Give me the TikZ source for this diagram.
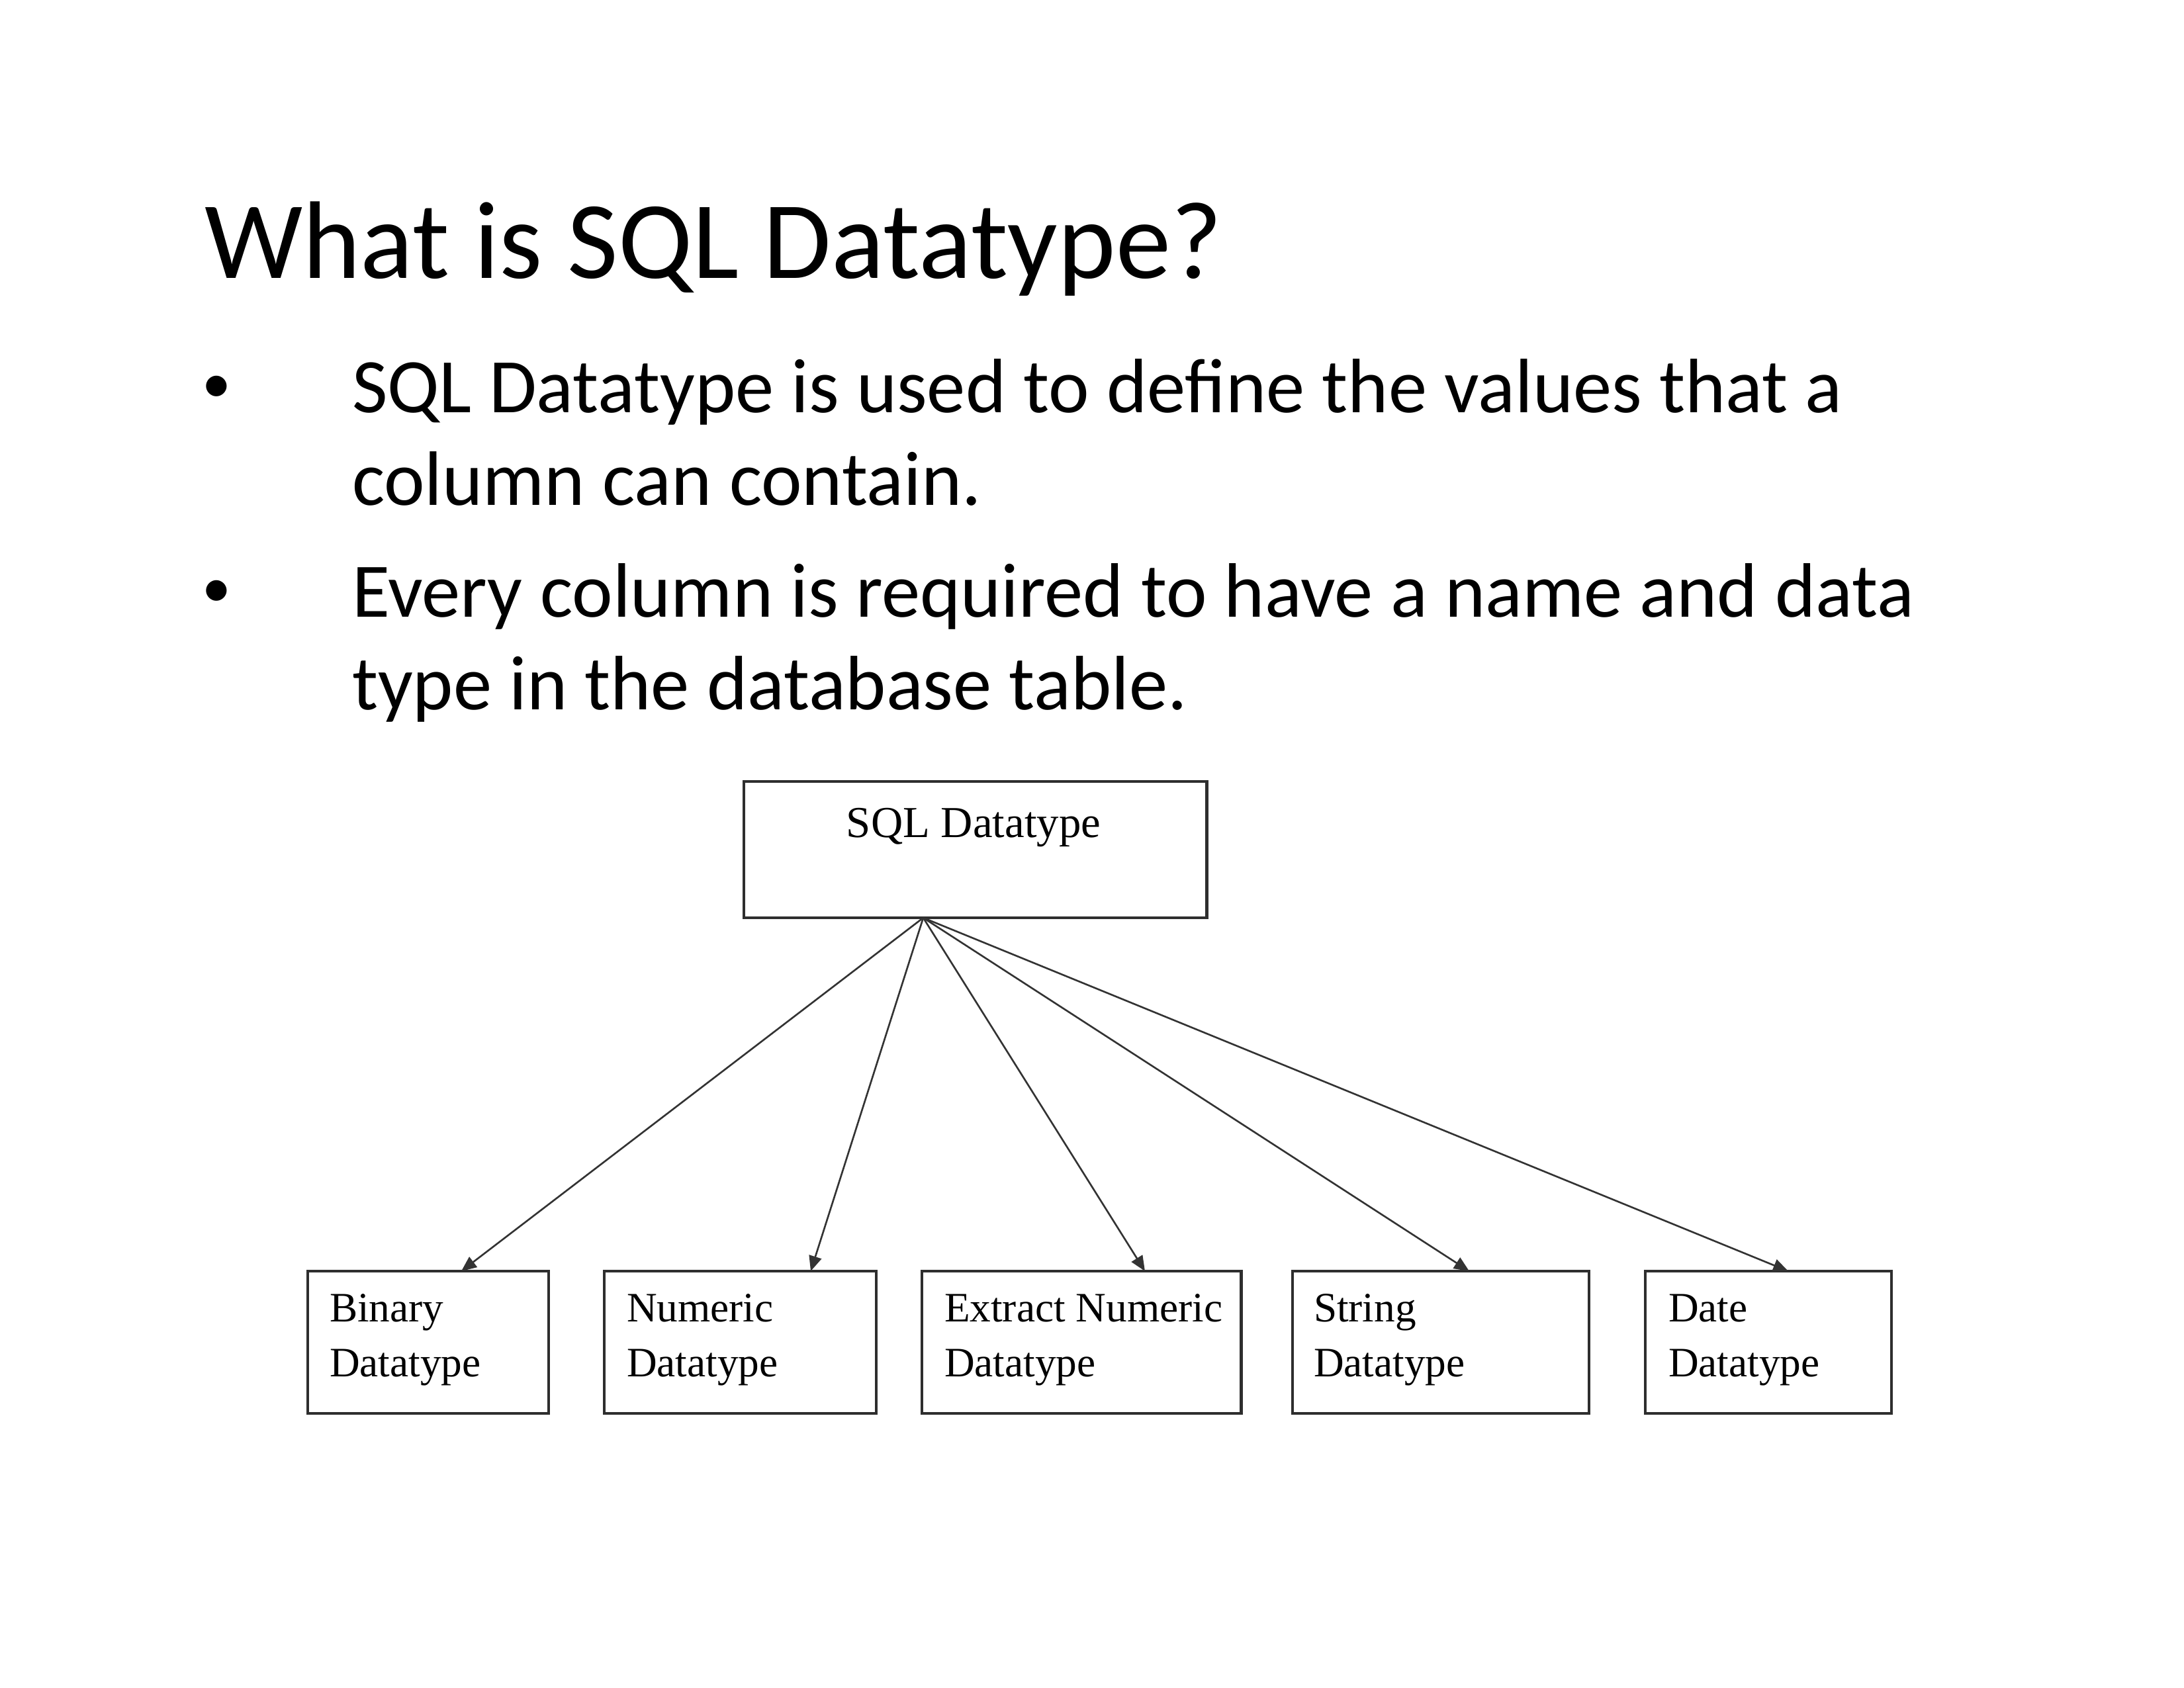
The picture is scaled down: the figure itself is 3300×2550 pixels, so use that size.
\documentclass[tikz,border=0pt]{standalone}
\usepackage{fontspec}
\setmainfont{Carlito}
\newfontfamily\diagfont{Liberation Serif}
\usetikzlibrary{arrows.meta}
\begin{document}
\begin{tikzpicture}[x=0.01cm,y=-0.01cm,
  every node/.style={inner sep=0pt, outer sep=0pt},
  titletext/.style={anchor=base west, font=\fontsize{47.4}{57}\selectfont},
  bodytext/.style={anchor=base west, font=\fontsize{33.15}{40}\selectfont},
  bullettext/.style={anchor=base west, font=\fontsize{25}{30}\selectfont},
  dbox/.style={draw=black!82, line width=1.25pt, rectangle, anchor=north west, minimum height=2.15cm},
  dlabel/.style={anchor=base west, font=\diagfont\fontsize{18}{22}\selectfont, text=black},
  conn/.style={draw=black!80, line width=0.75pt, -{Triangle[length=6.5pt,width=5.5pt]}}]
\useasboundingbox (0,0) rectangle (3300,2550);

% title and bullets
\node[titletext] (title) at (309,420) {What is SQL Datatype?};
\node[bullettext] (bul1) at (305,608) {•};
\node[bodytext] (l1) at (532,623) {SQL Datatype is used to define the values that a};
\node[bodytext] (l2) at (532,763) {column can contain.};
\node[bullettext] (bul2) at (305,917) {•};
\node[bodytext] (l3) at (532,932) {Every column is required to have a name and data};
\node[bodytext] (l4) at (532,1072) {type in the database table.};

% diagram boxes
\node[dbox, minimum width=6.99cm, minimum height=2.06cm] (top) at (1124,1181) {};
\node[anchor=base, font=\diagfont\fontsize{19}{23}\selectfont, text=black] (toplabel) at (1471,1265) {SQL Datatype};

\node[dbox, minimum width=3.64cm] (b1) at (465,1921) {};
\node[dbox, minimum width=4.11cm] (b2) at (913,1921) {};
\node[dbox, minimum width=4.82cm] (b3) at (1393,1921) {};
\node[dbox, minimum width=4.48cm] (b4) at (1953,1921) {};
\node[dbox, minimum width=3.72cm] (b5) at (2486,1921) {};

\node[dlabel] (b1a) at (498,1997) {Binary};
\node[dlabel] (b1b) at (498,2080) {Datatype};
\node[dlabel] (b2a) at (947,1997) {Numeric};
\node[dlabel] (b2b) at (947,2080) {Datatype};
\node[dlabel] (b3a) at (1427,1997) {Extract Numeric};
\node[dlabel] (b3b) at (1427,2080) {Datatype};
\node[dlabel] (b4a) at (1985,1997) {String};
\node[dlabel] (b4b) at (1985,2080) {Datatype};
\node[dlabel] (b5a) at (2521,1997) {Date};
\node[dlabel] (b5b) at (2521,2080) {Datatype};

% connector end points
\coordinate (fan) at (1395,1387);
\coordinate (e1) at (697,1921);
\coordinate (e2) at (1225,1921);
\coordinate (e3) at (1730,1921);
\coordinate (e4) at (2220,1921);
\coordinate (e5) at (2702,1921);

\draw[conn] (fan) -- (e1);
\draw[conn] (fan) -- (e2);
\draw[conn] (fan) -- (e3);
\draw[conn] (fan) -- (e4);
\draw[conn] (fan) -- (e5);
\end{tikzpicture}
\end{document}
